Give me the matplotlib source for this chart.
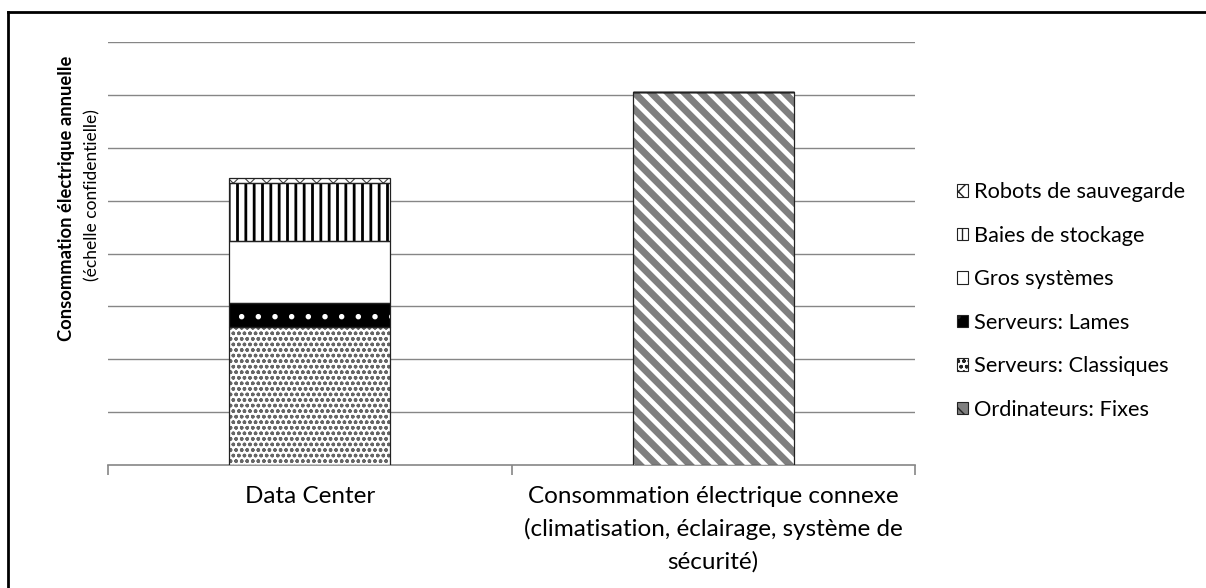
import matplotlib
matplotlib.use("Agg")
import matplotlib.pyplot as plt
from matplotlib.patches import Patch
from matplotlib.lines import Line2D
import numpy as np

plt.rcParams['font.family'] = ['Lato', 'DejaVu Sans']

categories = ["Data Center",
              "Consommation électrique connexe\n(climatisation, éclairage, système de\nsécurité)"]
series_names = ["Ordinateurs: Fixes", "Serveurs: Classiques", "Serveurs: Lames",
                "Gros systèmes", "Baies de stockage", "Robots de sauvegarde"]
ordinateurs_fixes = [0.0, 7.06]
serveurs_classiques = [2.61, 0.0]
serveurs_lames = [0.45, 0.0]
gros_systemes = [1.17, 0.0]
baies_stockage = [1.10, 0.0]
robots_sauvegarde = [0.09, 0.0]
ylabel_main = "Consommation électrique annuelle"
ylabel_sub = "(échelle confidentielle)"

values = [ordinateurs_fixes, serveurs_classiques, serveurs_lames,
          gros_systemes, baies_stockage, robots_sauvegarde]
styles = [
    dict(face="#7f7f7f", hatch="\\\\", hcol="white", hlw=3.5),
    dict(face="white", hatch="ooo", hcol="#666666", hlw=1.0),
    dict(face="black", hatch=".", hcol="white", hlw=1.5),
    dict(face="white", hatch=None, hcol="white", hlw=1.0),
    dict(face="white", hatch="||", hcol="black", hlw=2.0),
    dict(face="white", hatch="xx", hcol="#444444", hlw=0.8),
]

fig = plt.figure(figsize=(12.06, 5.88), dpi=100)
ax = fig.add_axes([108/1206, 1-465/588, (915-108)/1206, (465-42)/588])

x = np.arange(len(categories))
width = 0.4
bottom = np.zeros(len(categories))
for vals, st in zip(values, styles):
    v = np.array(vals)
    with plt.rc_context({'hatch.linewidth': st["hlw"]}):
        bars = ax.bar(x, v, width, bottom=bottom, color=st["face"],
                      edgecolor=st["hcol"], linewidth=0, hatch=st["hatch"], zorder=3)
    for b in bars:
        if hasattr(b, "set_hatch_linewidth"):
            b.set_hatch_linewidth(st["hlw"])
    ax.bar(x, v, width, bottom=bottom, fill=False, edgecolor="#222222",
           linewidth=0.9, zorder=4)
    bottom += v

ax.set_xlim(-0.5, 1.5)
ax.set_ylim(0, 8)
ax.set_yticks(np.arange(1, 9))
ax.set_yticklabels([])
ax.tick_params(axis='y', length=0)
ax.yaxis.grid(True, color="#868686", linewidth=1.0, zorder=0)
ax.set_axisbelow(True)
for s in ["left", "right", "top"]:
    ax.spines[s].set_visible(False)
ax.spines["bottom"].set_color("#868686")
ax.spines["bottom"].set_linewidth(1.2)

ax.set_xticks(x)
ax.set_xticklabels(categories, fontsize=17.5, linespacing=1.62)
ax.tick_params(axis='x', length=0, pad=15)
ax.set_xticks([-0.5, 0.5, 1.5], minor=True)
ax.tick_params(axis='x', which='minor', length=7, color="#868686", width=1.2)

fig.text(67/1206, 1-198/588, ylabel_main, rotation=90, fontsize=13.2,
         fontweight='bold', ha='center', va='center')
fig.text(92/1206, 1-195/588, ylabel_sub, rotation=90, fontsize=12.5,
         ha='center', va='center')

handles = []
for name, st in zip(series_names, styles):
    p = Patch(facecolor=st["face"], edgecolor=st["hcol"], hatch=st["hatch"],
              linewidth=0, label=name)
    handles.append(p)
handles = handles[::-1]
leg = fig.legend(handles=handles, loc="center left",
                 bbox_to_anchor=(946/1206, 1-301/588), frameon=False,
                 fontsize=15.7, handlelength=0.5, handleheight=0.5,
                 handletextpad=0.3, labelspacing=1.08, borderpad=0)
for h in leg.legend_handles:
    h.set_edgecolor("#222222")
    h.set_linewidth(0.8)

fig.add_artist(Line2D([8/1206, 8/1206], [0, 1-12/588], transform=fig.transFigure,
                      color="black", linewidth=2))
fig.add_artist(Line2D([8/1206, 1.0], [1-12/588, 1-12/588], transform=fig.transFigure,
                      color="black", linewidth=2))

fig.savefig("out.png", dpi=100)
